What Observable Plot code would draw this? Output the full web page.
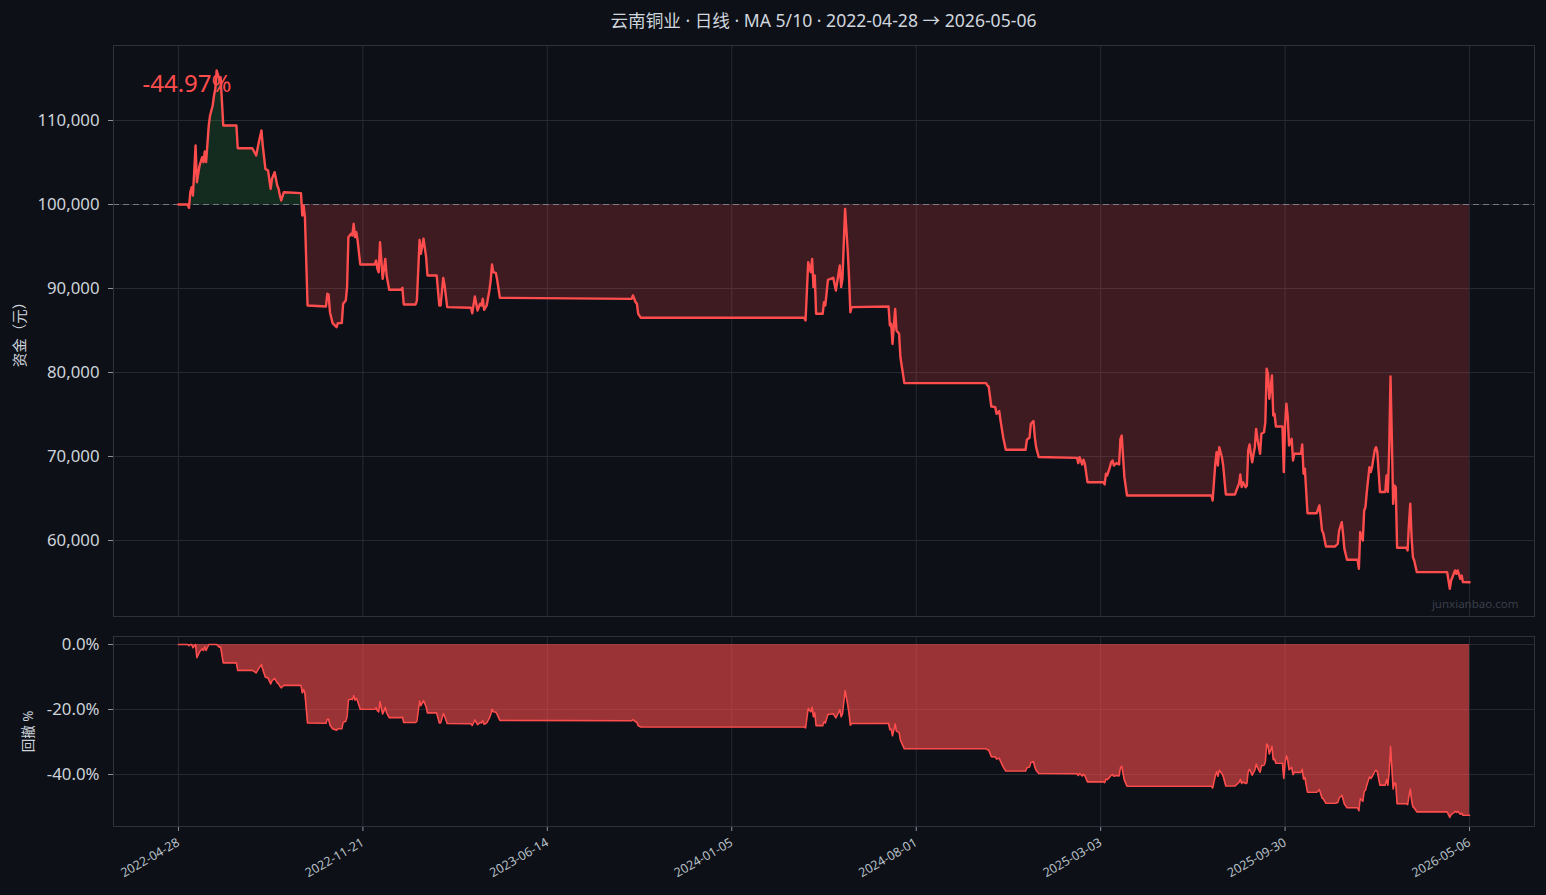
<!DOCTYPE html>
<html><head><meta charset="utf-8">
<script src="https://cdn.jsdelivr.net/npm/d3@7"></script>
<script src="https://cdn.jsdelivr.net/npm/@observablehq/plot@0.6"></script>
<style>
html,body{margin:0;padding:0;background:#0d1017;}
#wrap{position:relative;width:1546px;height:895px;overflow:hidden;font-family:"Noto Sans","Noto Sans CJK SC",sans-serif;}
#title{position:absolute;left:113px;width:1421px;top:8px;text-align:center;color:#d0d6de;font-size:17.6px;line-height:24px;}
#top{position:absolute;left:0;top:0;}
#bot{position:absolute;left:0;top:626px;}
</style></head><body>
<div id="wrap"><div id="title"></div><div id="top"></div><div id="bot"></div></div>
<script>
const titleText = "云南铜业 · 日线 · MA 5/10 · 2022-04-28 → 2026-05-06";
const tickIndex = [0, 140, 280, 420, 560, 700, 840, 980];
const tickDates = ["2022-04-28", "2022-11-21", "2023-06-14", "2024-01-05", "2024-08-01", "2025-03-03", "2025-09-30", "2026-05-06"];
const initialCapital = 100000;
const equityTicks = [60000, 70000, 80000, 90000, 100000, 110000];
const drawdownTicks = [0, -20, -40];
const returnLabel = "-44.97%";
const watermark = "junxianbao.com";
const yLabelTop = "资金（元）";
const yLabelBottom = "回撤 %";

// trading-bar index of each reading
const barIndex = [0,7,8,9,10,11,13,14,16,18,19,20,21,23,24,26,27,28,29,31,32,34,44,45,56,57,59,61,63,64,66,68,70,71,73,75,76,77,78,80,93,94,95,96,98,112,113,114,115,117,120,121,124,125,127,128,129,131,132,133,134,135,136,138,149,150,151,152,153,155,157,158,160,169,170,171,180,181,183,184,186,188,189,196,198,199,201,202,204,222,223,225,227,229,230,231,232,234,236,237,238,239,241,242,244,344,345,347,348,349,351,475,476,478,480,481,482,483,484,489,490,491,493,497,499,500,502,503,504,506,508,509,510,511,539,540,541,542,544,545,547,548,551,613,614,615,617,620,621,623,624,626,628,643,644,646,647,649,650,651,653,682,683,684,686,687,688,690,702,703,704,705,707,708,709,710,712,714,715,716,717,718,720,784,785,787,788,789,790,792,793,795,802,803,805,806,807,808,810,811,812,813,815,817,818,819,821,822,824,825,826,827,828,830,831,832,833,838,839,840,841,842,843,845,846,847,852,853,854,855,857,864,866,867,868,869,871,878,880,881,883,884,885,887,895,896,897,899,900,901,902,904,905,906,908,909,910,912,916,917,918,919,920,921,922,923,924,925,932,933,934,935,936,937,938,940,963,965,966,967,969,970,971,973,974,975,980];
// account equity (元)
const equity = [100000,100000,99600,101460,102060,101070,107020,102650,104640,105630,105040,106310,105040,109400,110600,111790,112980,113770,115950,114960,115160,109400,109400,106700,106700,106430,105830,107420,108810,107000,104240,104050,101870,103060,103850,102260,101870,101070,100480,101460,101350,98690,99880,98500,87980,87860,89370,89250,87180,85880,85400,85880,85880,88180,88570,90160,96110,96510,96310,97700,96110,96700,95710,92860,92860,93330,92340,91940,95510,91150,93530,91550,89850,89850,90080,88100,88100,88570,95790,94130,95920,93730,91550,91550,87980,87980,91270,90360,87780,87700,87060,89050,87380,88180,87980,88770,87460,87980,89760,90950,92860,91940,91820,90950,88890,88770,89170,88370,88180,86990,86510,86510,86190,93130,91940,93530,90160,91550,86990,86990,88370,87980,91030,91270,89760,90750,92740,90160,91150,99480,94520,91350,87180,87780,87860,85600,85800,83400,87580,85000,84600,81820,78730,78730,78450,78330,75950,75870,75080,75400,74290,72300,70800,70800,71990,72230,73890,74210,72300,71110,69940,69840,69210,69930,69050,69610,69130,66940,66940,66670,67940,67740,68730,69330,69530,68930,69210,69050,72100,72500,69940,67540,65360,65360,64760,69130,70520,68930,71110,69940,68930,65480,65480,65950,66750,67860,66350,66940,66350,66550,70710,71430,69320,71110,73290,72100,70320,72700,72890,74090,80440,79850,76870,79640,74880,75080,73570,73570,68140,73890,76280,74690,71310,72100,69530,70320,70320,71430,67940,68540,63250,63250,64170,62770,61190,60870,59290,59290,59610,61190,62180,60790,59010,57700,57700,56630,61010,60000,63570,63970,65770,68730,68140,68730,70710,71110,70520,65770,65770,67750,65770,70710,79520,72300,64370,66550,66350,59140,59140,58810,62000,64370,60410,58010,57620,56230,56230,54250,55240,55630,56430,56030,56430,55440,55830,55040,55030];

document.getElementById("title").textContent = titleText;

let peak = -Infinity;
const rows = barIndex.map((i, k) => {
  const v = equity[k];
  peak = Math.max(peak, v);
  return {i, v, dd: (v / peak - 1) * 100};
});

const RED = "#ff4d4d";
const GRID = "#262a33";
const FRAME = "#2d323c";
const TXT = "#cdd3db";
const TICK = "#8b949e";
const FONT = '"Noto Sans","Noto Sans CJK SC",sans-serif';
const xDomain = [-49.3, 1029.3];

const topPlot = Plot.plot({
  width: 1546, height: 626,
  marginTop: 45, marginBottom: 10, marginLeft: 113, marginRight: 12,
  style: {background: "transparent", color: TXT, fontFamily: FONT, fontSize: "16px"},
  x: {domain: xDomain, axis: null},
  y: {domain: [50952, 118929], axis: null},
  marks: [
    Plot.gridX(tickIndex, {stroke: GRID, strokeOpacity: 1}),
    Plot.gridY(equityTicks, {stroke: GRID, strokeOpacity: 1}),
    Plot.areaY(rows, {x: "i", y1: () => initialCapital, y2: d => Math.min(d.v, initialCapital), fill: RED, fillOpacity: 0.2}),
    Plot.areaY(rows, {x: "i", y1: () => initialCapital, y2: d => Math.max(d.v, initialCapital), fill: "#2ea043", fillOpacity: 0.2}),
    Plot.ruleY([initialCapital], {stroke: TICK, strokeDasharray: "6,4", strokeOpacity: 0.75, strokeWidth: 1}),
    Plot.lineY(rows, {x: "i", y: "v", stroke: RED, strokeWidth: 2.4}),
    Plot.axisY(equityTicks, {tickFormat: d3.format(","), tickSize: 5, tickPadding: 9, stroke: TICK, fill: TXT, fontSize: 16.8, label: null}),
    Plot.frame({stroke: FRAME}),
    Plot.text([returnLabel], {text: d => d, frameAnchor: "top-left", dx: 29, dy: 39, textAnchor: "start", lineAnchor: "middle", fill: RED, fontSize: 24}),
    Plot.text([watermark], {text: d => d, frameAnchor: "bottom-right", dx: -16, dy: -12, textAnchor: "end", lineAnchor: "middle", fill: "#3a3f4a", fontSize: 11.5}),
    Plot.text([yLabelTop], {text: d => d, frameAnchor: "left", dx: -93, rotate: -90, textAnchor: "middle", lineAnchor: "middle", fill: TXT, fontSize: 14.5})
  ]
});
document.getElementById("top").appendChild(topPlot);

const botPlot = Plot.plot({
  width: 1546, height: 269,
  marginTop: 10, marginBottom: 69, marginLeft: 113, marginRight: 12,
  style: {background: "transparent", color: TXT, fontFamily: FONT, fontSize: "16px"},
  x: {domain: xDomain, axis: null},
  y: {domain: [-56.0, 2.46], axis: null},
  marks: [
    Plot.gridX(tickIndex, {stroke: GRID, strokeOpacity: 1}),
    Plot.gridY(drawdownTicks, {stroke: GRID, strokeOpacity: 1}),
    Plot.areaY(rows, {x: "i", y1: () => 0, y2: "dd", fill: RED, fillOpacity: 0.58}),
    Plot.lineY(rows, {x: "i", y: "dd", stroke: RED, strokeWidth: 1.6}),
    Plot.axisY(drawdownTicks, {tickFormat: d => d.toFixed(1) + "%", tickSize: 5, tickPadding: 9, stroke: TICK, fill: TXT, fontSize: 16.8, label: null}),
    Plot.axisX(tickIndex, {tickFormat: d => tickDates[tickIndex.indexOf(d)], tickRotate: -30, tickSize: 5, tickPadding: 10, stroke: TICK, fill: "#b8c0c8", fontSize: 12.5, label: null}),
    Plot.frame({stroke: FRAME}),
    Plot.text([yLabelBottom], {text: d => d, frameAnchor: "left", dx: -85, rotate: -90, textAnchor: "middle", lineAnchor: "middle", fill: TXT, fontSize: 13.5})
  ]
});
document.getElementById("bot").appendChild(botPlot);
</script>
</body></html>
